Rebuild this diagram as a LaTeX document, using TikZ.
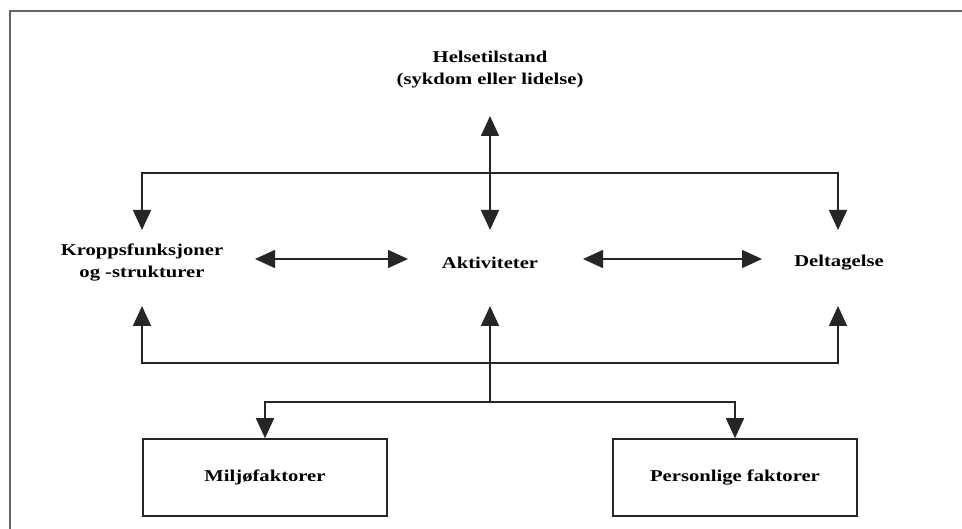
\documentclass[tikz,border=0pt]{standalone}
\usepackage{fontspec}
\newfontfamily\lblfont[FakeStretch=1.25]{Liberation Serif}
\usetikzlibrary{arrows.meta}
\begin{document}
\begin{tikzpicture}[x=1pt,y=-1pt,
  lbl/.style={inner sep=0pt, align=center, font=\lblfont\bfseries\fontsize{16.5}{22}\selectfont},
  boxnode/.style={lbl, draw=black!85, line width=1.5pt, minimum width=244pt, minimum height=77pt},
  conn/.style={line width=1.5pt, draw=black!85},
  arr/.style={conn, -{Triangle[length=20pt,width=18pt]}},
  darr/.style={conn, {Triangle[length=20pt,width=18pt]}-{Triangle[length=20pt,width=18pt]}}]
\useasboundingbox (0,0) rectangle (962,529);
% outer frame (cut off at right and bottom)
\draw[black!60, line width=2pt] (962,11) -- (9.5,11) -- (9.5,529);
% nodes
\node[lbl] (hel) at (490,70) {Helsetilstand\\(sykdom eller lidelse)};
\node[lbl] (kro) at (142,263) {Kroppsfunksjoner\\og -strukturer};
\node[lbl] (akt) at (490,262.5) {Aktiviteter};
\node[lbl] (del) at (839,262.5) {Deltagelse};
\node[boxnode] (mil) at (265,477.5) {Milj\o faktorer};
\node[boxnode] (per) at (735,477.5) {Personlige faktorer};
% connector end points
\coordinate (hT) at (490,116);
\coordinate (aT) at (490,230);
\coordinate (kT) at (142,230);
\coordinate (dT) at (838,230);
\coordinate (bar1) at (490,173);
\coordinate (kB) at (142,306);
\coordinate (aB) at (490,306);
\coordinate (dB) at (838,306);
\coordinate (bar2) at (490,363);
\coordinate (bar3) at (490,402);
\coordinate (l1) at (255,259);
\coordinate (l2) at (408,259);
\coordinate (r1) at (583,259);
\coordinate (r2) at (762,259);
% connectors
\draw[darr] (hT) -- (aT);
\draw[arr] (bar1) -| (kT);
\draw[arr] (bar1) -| (dT);
\draw[darr] (l1) -- (l2);
\draw[darr] (r1) -- (r2);
\draw[arr] (bar2) -| (kB);
\draw[arr] (bar2) -| (dB);
\draw[arr] (bar3) -- (aB);
\draw[arr] (bar3) -| (mil.north);
\draw[arr] (bar3) -| (per.north);
\end{tikzpicture}
\end{document}
